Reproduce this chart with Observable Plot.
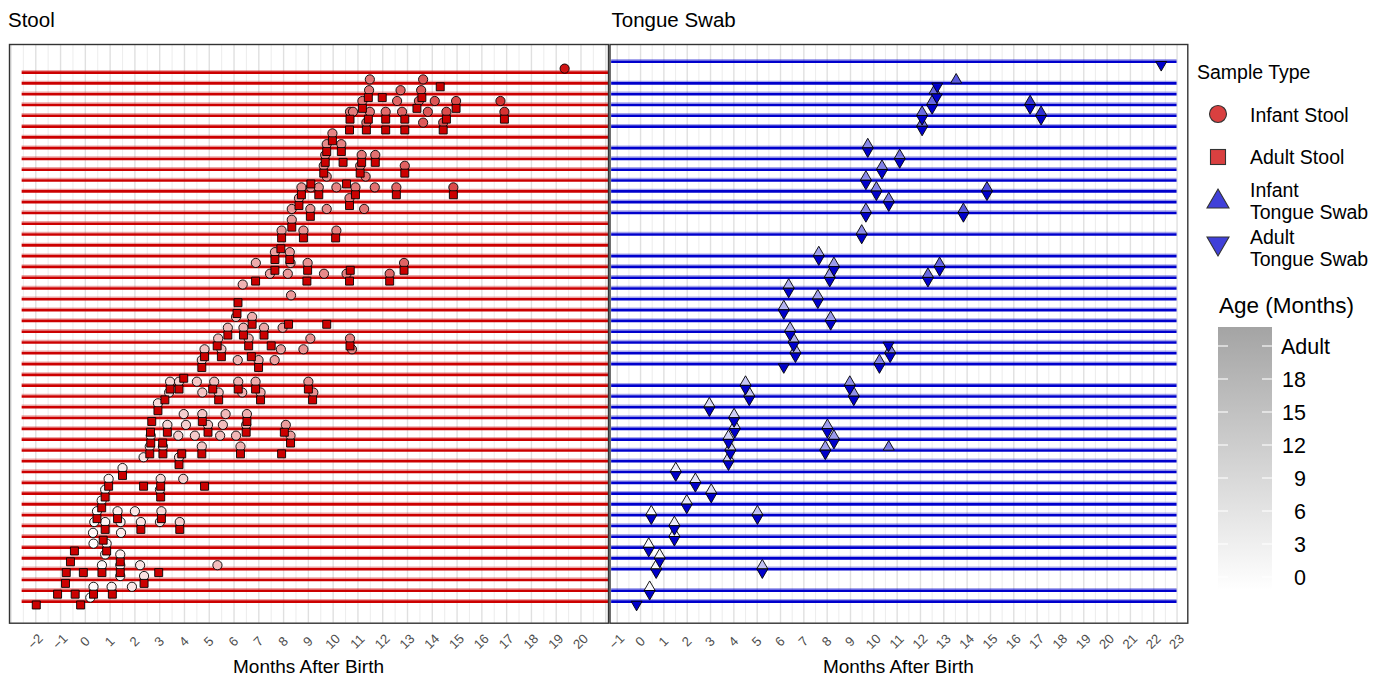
<!DOCTYPE html>
<html>
<head>
<meta charset="utf-8">
<script src="https://cdn.jsdelivr.net/npm/d3@7"></script>
<script src="https://cdn.jsdelivr.net/npm/@observablehq/plot@0.6"></script>
<style>
  body { margin: 0; background: #fff; }
  #root { position: relative; width: 1379px; height: 680px; overflow: hidden; background: #fff; }
  #root svg { position: absolute; top: 0; }
</style>
</head>
<body>
<div id="root"></div>
<script>
// ---------------- DATA ----------------
// rows (subjects) drawn in each panel, 0 = top row
const stoolRows = [1,2,3,4,5,6,7,8,9,10,11,12,13,14,15,16,17,18,19,20,21,22,23,24,25,26,27,28,29,30,31,32,33,34,35,36,37,38,39,40,41,42,43,44,45,46,47,48,49,50];
const tongueRows = [0,2,3,4,5,6,8,9,10,11,12,13,14,16,18,19,20,21,22,23,24,25,26,27,28,30,31,32,33,34,35,36,37,38,39,40,41,42,43,44,45,46,47,49,50];

// [row, months after birth]
const infantStool = [
  [1,19.34],
  [2,11.48],[2,13.63],
  [3,11.45],[3,12.72],[3,13.55],
  [4,11.18],[4,12.58],[4,13.46],[4,14.1],[4,14.96],[4,16.75],
  [5,10.68],[5,10.8],[5,11.48],[5,12.12],[5,12.78],[5,13.82],[5,14.57],[5,16.91],
  [6,11.34],[6,13.63],[6,14.44],
  [7,9.97],
  [8,9.74],[8,10.33],
  [9,9.68],[9,11.15],[9,11.7],
  [10,9.62],[10,11.09],[10,12.89],
  [11,9.74],[11,11.31],
  [12,8.72],[12,9.1],[12,9.42],[12,10.13],[12,10.9],[12,11.68],[12,12.55],[12,14.85],
  [13,8.62],[13,10.66],
  [14,8.33],[14,9.08],[14,9.74],[14,11.25],
  [15,8.33],
  [16,7.92],[16,8.8],[16,10.13],
  [18,7.65],[18,8.25],
  [19,6.88],[19,8.28],[19,8.97],[19,12.86],
  [20,7.45],[20,8.17],[20,9.63],[20,10.54],[20,12.28],
  [21,6.35],
  [22,8.3],
  [24,6.08],[24,6.73],
  [25,5.75],[25,6.38],[25,7.21],[25,7.96],
  [26,5.36],[26,6.59],[26,9.08],[26,10.68],
  [27,4.81],[27,5.49],[27,7.89],[27,8.8],[27,10.76],
  [28,4.7],[28,6.15],[28,6.99],[28,7.64],
  [30,3.42],[30,3.78],[30,4.5],[30,5.2],[30,6.17],[30,6.87],[30,9.0],
  [31,3.38],[31,4.72],[31,5.38],[31,6.33],[31,7.07],[31,9.2],
  [32,2.93],
  [33,3.97],[33,4.72],[33,5.66],[33,6.52],
  [34,3.31],[34,4.06],[34,4.95],[34,5.55],[34,6.49],[34,8.09],
  [35,2.64],[35,3.75],[35,4.42],[35,5.44],[35,6.08],[35,8.28],
  [36,2.6],[36,3.13],[36,4.7],[36,6.26],
  [37,2.35],[37,3.78],
  [38,1.5],
  [39,0.94],[39,3.04],[39,3.95],
  [40,0.8],[40,3.01],
  [41,0.66],
  [42,0.47],[42,1.3],[42,2.0],[42,3.07],
  [43,0.36],[43,0.8],[43,1.42],[43,2.24],[43,3.01],[43,3.81],
  [44,0.31],[44,1.44],
  [45,0.33],[45,0.86],
  [46,0.8],[46,1.41],
  [47,0.67],[47,1.41],[47,2.21],[47,5.33],
  [48,1.41],[48,2.37],
  [49,0.33],[49,1.06],[49,1.88],
  [50,0.2]
];

const adultStool = [
  [2,14.32],
  [3,11.42],[3,11.98],[3,13.58],
  [4,11.18],[4,13.38],[4,14.96],
  [5,10.68],[5,11.42],[5,12.12],[5,12.89],[5,14.57],[5,16.91],
  [6,10.66],[6,11.34],[6,12.12],[6,12.89],[6,14.44],
  [7,9.97],
  [8,9.74],[8,10.33],
  [9,9.68],[9,10.4],[9,11.15],[9,11.7],
  [10,9.62],[10,11.09],[10,12.89],
  [11,9.1],[11,10.54],
  [12,8.72],[12,9.42],[12,10.9],[12,12.55],[12,14.85],
  [13,8.62],[13,10.66],
  [14,9.08],
  [15,8.33],
  [16,7.92],[16,8.8],[16,10.1],
  [17,7.89],
  [18,7.65],[18,8.25],
  [19,7.65],[19,8.97],[19,10.69],[19,12.86],
  [20,6.87],[20,8.94],[20,10.66],[20,12.28],
  [22,6.16],
  [23,6.12],
  [24,6.73],[24,8.2],[24,9.74],
  [25,5.75],[25,6.38],[25,7.21],
  [26,5.32],[26,6.59],[26,7.5],[26,10.68],
  [27,4.81],[27,5.49],[27,6.7],
  [28,4.7],[28,6.99],
  [29,3.97],
  [30,3.42],[30,3.78],[30,5.14],[30,6.17],[30,6.87],[30,9.0],
  [31,3.21],[31,5.38],[31,7.07],[31,9.17],
  [32,2.93],
  [33,2.68],[33,4.72],[33,6.52],
  [34,2.63],[34,3.31],[34,4.95],[34,6.49],[34,8.03],
  [35,2.64],[35,3.12],[35,8.28],
  [36,2.6],[36,3.13],[36,3.89],[36,4.7],[36,6.26],[36,7.92],
  [37,3.78],
  [38,1.5],
  [39,0.94],[39,2.35],[39,3.04],[39,4.81],
  [40,0.8],[40,3.04],
  [41,0.66],
  [42,0.47],[42,1.3],[42,3.07],
  [43,0.8],[43,2.24],[43,3.81],
  [44,0.72],
  [45,-0.44],[45,0.86],
  [46,-0.6],[46,1.41],
  [47,-0.77],[47,-0.08],[47,0.67],[47,1.41],[47,2.96],
  [48,-0.8],[48,2.37],
  [49,-1.12],[49,-0.41],[49,0.33],[49,1.09],
  [50,-1.98],[50,-0.19]
];

const infantTongue = [
  [2,13.53],[3,12.6],[4,12.5],[4,16.7],[5,12.07],[5,17.17],[6,12.07],
  [8,9.74],[9,11.11],[10,10.35],[11,9.66],[12,10.11],[12,14.85],[13,10.64],
  [14,9.66],[14,13.84],[16,9.48],[18,7.64],[19,8.29],[19,12.82],[20,8.11],[20,12.32],
  [21,6.35],[22,7.6],[23,6.14],[24,8.15],[25,6.41],[26,6.56],[27,6.64],[27,10.7],
  [28,10.24],[30,4.5],[30,8.97],[31,4.66],[31,9.14],[32,2.95],[33,4.01],
  [34,4.04],[34,8.01],[35,3.77],[35,8.29],[36,3.85],[36,7.92],[36,10.64],[37,3.77],
  [38,1.51],[39,2.35],[40,3.03],[41,1.98],[42,0.46],[42,5.01],[43,1.45],[44,1.45],
  [45,0.35],[46,0.82],[47,0.67],[47,5.22],[49,0.39]
];

const adultTongue = [
  [0,22.32],[2,12.72],[3,12.7],[4,12.5],[4,16.7],[5,12.07],[5,17.17],[6,12.07],
  [8,9.74],[9,11.11],[10,10.35],[11,9.66],[12,10.11],[12,14.85],[13,10.64],
  [14,9.66],[14,13.84],[16,9.48],[18,7.64],[19,8.29],[19,12.82],[20,8.11],[20,12.32],
  [21,6.35],[22,7.6],[23,6.14],[24,8.15],[25,6.41],[26,6.56],[26,10.63],[27,6.64],[27,10.7],
  [28,6.14],[28,10.24],[30,4.5],[30,8.97],[31,4.66],[31,9.14],[32,2.95],[33,4.01],
  [34,4.04],[34,8.01],[35,3.77],[35,8.29],[36,3.85],[36,7.92],[37,3.77],
  [38,1.51],[39,2.35],[40,3.03],[41,1.98],[42,0.46],[42,5.01],[43,1.45],[44,1.45],
  [45,0.35],[46,0.82],[47,0.67],[47,5.22],[49,0.39],[50,-0.17]
];

const stoolTicks = [-2,-1,0,1,2,3,4,5,6,7,8,9,10,11,12,13,14,15,16,17,18,19,20];
const tongueTicks = [-1,0,1,2,3,4,5,6,7,8,9,10,11,12,13,14,15,16,17,18,19,20,21,22,23];
const ageTicks = [0,3,6,9,12,15,18,21];
const ageTickLabels = ["0","3","6","9","12","15","18","Adult"];
const legendItems = ["Infant Stool","Adult Stool","Infant\nTongue Swab","Adult\nTongue Swab"];
const ADULT_AGE = 21;

// ---------------- STYLE ----------------
const FONT = '"Liberation Sans", Arial, Helvetica, sans-serif';
const RED = "#cc0000", BLUE = "#0000cc";
const fmt = d => d < 0 ? "\u2212" + Math.abs(d) : String(d);
const halfSteps = (a, b) => d3.range(a * 2, b * 2 + 1).map(v => v / 2);

const triangleDown = {
  draw(ctx, size) {
    const y = Math.sqrt(size / (3 * Math.sqrt(3)));
    ctx.moveTo(0, 2 * y);
    ctx.lineTo(-Math.sqrt(3) * y, -y);
    ctx.lineTo(Math.sqrt(3) * y, -y);
    ctx.closePath();
  }
};
const TRI_R = 4.1;
const TRI_OFF = Math.sqrt(Math.PI * TRI_R * TRI_R / (3 * Math.sqrt(3)));

function panel({width, marginLeft, marginRight, xDomain, rows, lineStart, lineEnd, color, marksPts}) {
  const steps = halfSteps(Math.floor(xDomain[0]), Math.ceil(xDomain[1])).filter(v => v > xDomain[0] && v < xDomain[1]);
  const minor = steps.filter(v => !Number.isInteger(v));
  const major = steps.filter(v => Number.isInteger(v));
  return Plot.plot({
    width, height: 680,
    marginLeft, marginRight, marginTop: 44, marginBottom: 57.3,
    style: {background: "transparent", fontFamily: FONT, overflow: "visible"},
    x: {domain: xDomain, axis: null},
    y: {domain: [-1.575, 52.03], reverse: true, axis: null},
    color: {type: "linear", domain: [0, ADULT_AGE], range: ["#ffffff", color], interpolate: "rgb"},
    marks: [
      Plot.gridX(minor, {stroke: "#eeeeee", strokeOpacity: 1, strokeWidth: 1.1}),
      Plot.gridX(major, {stroke: "#e0e0e0", strokeOpacity: 1, strokeWidth: 1.4}),
      Plot.ruleY(rows, {y: d => d, x1: () => lineStart, x2: () => lineEnd, stroke: color, strokeWidth: 1.4, strokeOpacity: 0.35, dy: -1.7}),
      Plot.ruleY(rows, {y: d => d, x1: () => lineStart, x2: () => lineEnd, stroke: color, strokeWidth: 2.6, dy: 0.3}),
      ...marksPts,
      Plot.frame({stroke: "#333333", strokeWidth: 1.4})
    ]
  });
}

const left = panel({
  width: 612, marginLeft: 9, marginRight: 4, xDomain: [-3.06, 21.11],
  rows: stoolRows, lineStart: -2.55, lineEnd: 21.11, color: RED,
  marksPts: [
    Plot.dot(infantStool, {x: d => d[1], y: d => d[0], fill: d => d[1], r: 4.6, stroke: "#000", strokeWidth: 0.9, dy: -3.7}),
    Plot.dot(adultStool, {x: d => d[1], y: d => d[0], symbol: "square", fill: RED, r: 4.5, stroke: "#000", strokeWidth: 0.9, dy: 3.7})
  ]
});

const right = panel({
  width: 590, marginLeft: 9.5, marginRight: 2.7, xDomain: [-1.31, 23.46],
  rows: tongueRows, lineStart: -1.24, lineEnd: 23, color: BLUE,
  marksPts: [
    Plot.dot(infantTongue, {x: d => d[1], y: d => d[0], symbol: "triangle", fill: d => d[1], r: TRI_R, stroke: "#000", strokeWidth: 0.9, dy: -TRI_OFF}),
    Plot.dot(adultTongue, {x: d => d[1], y: d => d[0], symbol: triangleDown, fill: BLUE, r: TRI_R, stroke: "#000", strokeWidth: 0.9, dy: TRI_OFF})
  ]
});

const root = document.getElementById("root");
const LEFT_OFF = 0, RIGHT_OFF = 600;
left.style.left = LEFT_OFF + "px";
right.style.left = RIGHT_OFF + "px";
root.appendChild(left);
root.appendChild(right);

// ---------------- AXIS LABELS, TITLES & LEGEND ----------------
const ov = d3.create("svg").attr("width", 1379).attr("height", 680)
  .style("left", "0px").style("font-family", FONT).style("pointer-events", "none");

// rotated tick labels placed with each panel's Plot x scale
function tickLabels(plot, offset, ticks) {
  const sc = plot.scale("x");
  ticks.forEach(t => {
    const x = sc.apply(t) + offset;
    ov.append("text")
      .attr("transform", `translate(${x},641.5) rotate(-45)`)
      .attr("text-anchor", "middle").attr("dominant-baseline", "central")
      .attr("font-size", 13.2).attr("fill", "#4d4d4d").text(fmt(t));
  });
}
tickLabels(left, LEFT_OFF, stoolTicks);
tickLabels(right, RIGHT_OFF, tongueTicks);

ov.append("text").attr("x", 8).attr("y", 26.5).attr("font-size", 20.5).text("Stool");
ov.append("text").attr("x", 611.5).attr("y", 26.5).attr("font-size", 20.5).text("Tongue Swab");
ov.append("text").attr("x", 308.5).attr("y", 673).attr("font-size", 19).attr("text-anchor", "middle").text("Months After Birth");
ov.append("text").attr("x", 898.4).attr("y", 673).attr("font-size", 19).attr("text-anchor", "middle").text("Months After Birth");

ov.append("text").attr("x", 1197).attr("y", 79).attr("font-size", 19.5).text("Sample Type");

const LRED = "#d94040", LBLUE = "#4040d9";
const sx = 1218;
ov.append("circle").attr("cx", sx).attr("cy", 114).attr("r", 8.5).attr("fill", LRED).attr("stroke", "#333").attr("stroke-width", 1.1);
ov.append("rect").attr("x", sx - 7.5).attr("y", 149.5).attr("width", 15).attr("height", 15).attr("fill", LRED).attr("stroke", "#333").attr("stroke-width", 1.1);
ov.append("path").attr("d", `M${sx},189 L${sx + 11},208 L${sx - 11},208 Z`).attr("fill", LBLUE).attr("stroke", "#333").attr("stroke-width", 1.1);
ov.append("path").attr("d", `M${sx - 11},237 L${sx + 11},237 L${sx},256 Z`).attr("fill", LBLUE).attr("stroke", "#333").attr("stroke-width", 1.1);

const labelBase = [[122], [164], [197, 219], [244, 266]];
legendItems.forEach((lab, i) => {
  lab.split("\n").forEach((line, j) => {
    ov.append("text").attr("x", 1250).attr("y", labelBase[i][j]).attr("font-size", 19.5).text(line);
  });
});

ov.append("text").attr("x", 1219).attr("y", 313).attr("font-size", 22.5).text("Age (Months)");

const defs = ov.append("defs");
const grad = defs.append("linearGradient").attr("id", "ageGrad").attr("x1", 0).attr("y1", 0).attr("x2", 0).attr("y2", 1);
grad.append("stop").attr("offset", "0%").attr("stop-color", "#a4a4a4");
grad.append("stop").attr("offset", "100%").attr("stop-color", "#ffffff");
const barTop = 327, barBot = 590, barX = 1218, barW = 54;
ov.append("rect").attr("x", barX).attr("y", barTop).attr("width", barW).attr("height", barBot - barTop).attr("fill", "url(#ageGrad)");
const ageY = d3.scaleLinear().domain([0, ADULT_AGE]).range([577, 346]);
ageTicks.forEach((t, i) => {
  const y = ageY(t);
  ov.append("line").attr("x1", barX).attr("x2", barX + 10).attr("y1", y).attr("y2", y).attr("stroke", "#fff").attr("stroke-width", 1.1);
  ov.append("line").attr("x1", barX + barW - 10).attr("x2", barX + barW).attr("y1", y).attr("y2", y).attr("stroke", "#fff").attr("stroke-width", 1.1);
  const lab = ageTickLabels[i];
  const isWord = isNaN(+lab);
  ov.append("text").attr("x", isWord ? 1281 : 1306).attr("y", y + 7.8)
    .attr("text-anchor", isWord ? "start" : "end").attr("font-size", 21.5).text(lab);
});

root.appendChild(ov.node());
</script>
</body>
</html>
